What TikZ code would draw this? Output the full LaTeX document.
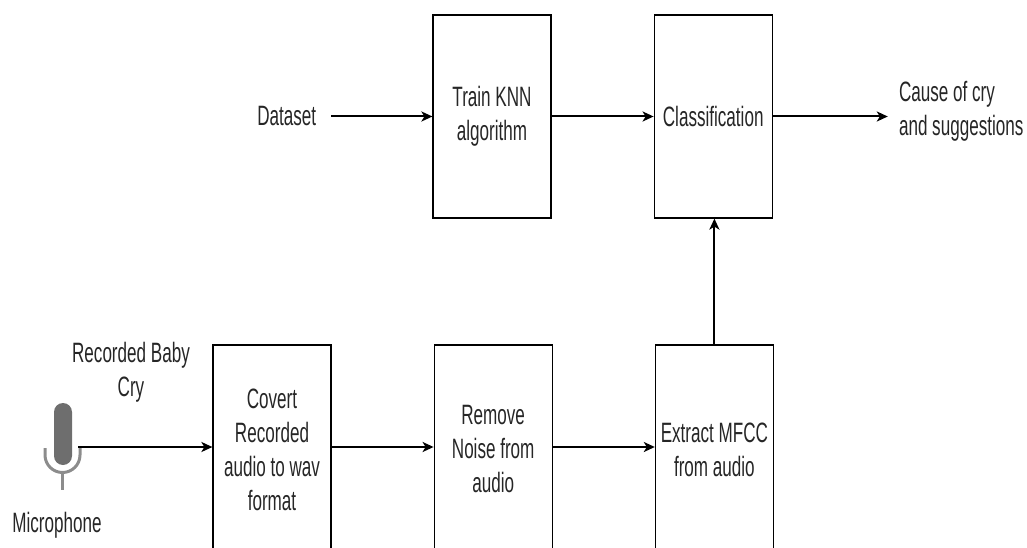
\documentclass[tikz,border=0pt]{standalone}
\usepackage{fontspec}
\setmainfont{Liberation Sans}[FakeStretch=0.61]
\usepackage{tikz}
\usetikzlibrary{positioning,arrows.meta}
\definecolor{micgray}{HTML}{6E6E6E}
\definecolor{holdgray}{HTML}{8C8C8C}
\definecolor{txtgray}{HTML}{262626}
\tikzstyle{process} = [rectangle, minimum width=118pt, minimum height=203pt, align=center, draw=black, line width=1.2pt, text=txtgray, inner sep=0pt]
\tikzstyle{note} = [text=txtgray, inner sep=0pt, align=center]
\tikzstyle{arrow} = [line width=2pt,->,>={Stealth[length=11pt,width=10pt,inset=3pt]}]

\begin{document}
\begin{tikzpicture}[x=1pt, y=1pt, node distance=102pt, font=\fontsize{28}{34}\selectfont]
\useasboundingbox (0,0) rectangle (1027,547);

\node (train) [process] at (492,430.5) {Train KNN\\algorithm};
\node (classif) [process, right=of train] {Classification};
\node (convert) [process, minimum height=209pt] at (272,97.5) {Covert\\Recorded\\audio to wav\\format};
\node (denoise) [process, minimum height=209pt, right=of convert] {Remove\\Noise from\\audio};
\node (mfcc) [process, minimum height=209pt, right=of denoise] {Extract MFCC\\from audio};

\node (dataset) [note, left=101pt of train, inner xsep=15pt] {Dataset};
\node (cause) [note, right=115pt of classif, inner xsep=11pt, align=left, yshift=5pt] {Cause of cry\\and suggestions};
\node (babycry) [note] at (131,175) {Recorded Baby\\Cry};
\node (micname) [note] at (57,22) {Microphone};

% microphone
\fill[micgray, rounded corners=9pt] (54,82) rectangle (72,144);
\draw[holdgray, line width=3pt] (45,99) -- (45,92) arc (180:360:17.5) -- (80,99);
\draw[holdgray, line width=3pt] (62.5,74.5) -- (62.5,57);
\coordinate (mic) at (78,100);

\draw [arrow] (dataset) -- (train);
\draw [arrow] (train) -- (classif);
\draw [arrow] (classif) -- (classif.east -| cause.west);
\draw [arrow] (mic) -- (mic -| convert.west);
\draw [arrow] (convert.east |- mic) -- (denoise.west |- mic);
\draw [arrow] (denoise.east |- mic) -- (mfcc.west |- mic);
\draw [arrow] (mfcc.north) -- (mfcc.north |- classif.south);

\end{tikzpicture}
\end{document}
